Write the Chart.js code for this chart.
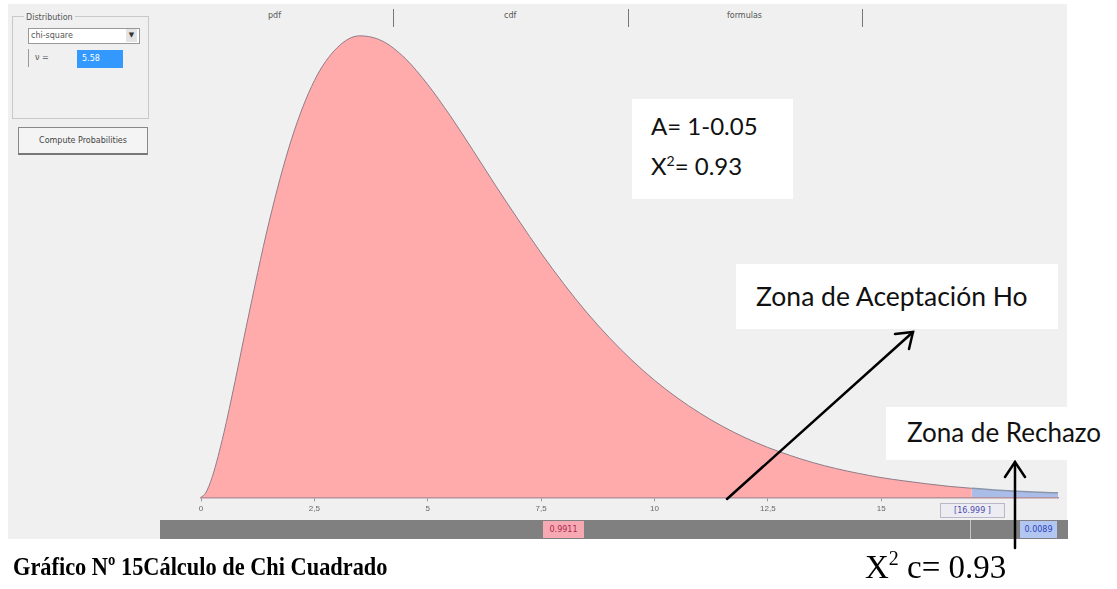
<!DOCTYPE html>
<html>
<head>
<meta charset="utf-8">
<script src="https://cdn.jsdelivr.net/npm/chart.js@4.4.1/dist/chart.umd.min.js"></script>
<style>
  body { margin: 0; background: #fff; width: 1117px; height: 589px; overflow: hidden; position: relative; font-family: "DejaVu Sans", sans-serif; }
  .abs { position: absolute; }
  #panel { left: 8px; top: 4px; width: 1059px; height: 535px; background: #f0f0f0; }
  .small { font-size: 8px; color: #555; }
  .sep { width: 1px; height: 18px; top: 9px; background: #777; }
  .note { background: #fff; font-family: Lato, "Open Sans", sans-serif; color: #111; }
  .cap { font-family: "Liberation Serif", serif; color: #000; transform-origin: 0 0; white-space: nowrap; }
  #chartBox { left: 0; top: 0; width: 1117px; height: 589px; }
</style>
</head>
<body>
<div id="panel" class="abs"></div>

<!-- left controls -->
<div class="abs" style="left:12px;top:16px;width:135px;height:101px;border:1px solid #c8c8c8;"></div>
<div class="abs small" style="left:24px;top:13px;background:#f0f0f0;padding:0 2px;">Distribution</div>
<div class="abs small" style="left:28px;top:28px;width:108px;height:14px;border:1px solid #999;background:#fff;line-height:14px;padding-left:2px;">chi-square</div>
<div class="abs" style="left:126px;top:29px;width:11px;height:13px;background:#e4e4e4;font-size:7px;line-height:13px;text-align:center;color:#333;">&#9660;</div>
<div class="abs small" style="left:28px;top:49px;width:95px;height:18px;border-left:1px solid #999;line-height:18px;padding-left:6px;">&nu; =</div>
<div class="abs" style="left:77px;top:50px;width:46px;height:18px;background:#3399ff;color:#fff;font-size:8px;line-height:18px;padding-left:5px;box-sizing:border-box;">5.58</div>
<div class="abs small" style="left:18px;top:127px;width:128px;height:25px;border:1px solid #888;border-bottom:2px solid #777;background:#f4f4f4;line-height:25px;text-align:center;color:#444;">Compute Probabilities</div>

<!-- tabs -->
<div class="abs small" style="left:268px;top:11px;">pdf</div>
<div class="abs sep" style="left:393px;"></div>
<div class="abs small" style="left:504px;top:11px;">cdf</div>
<div class="abs sep" style="left:628px;"></div>
<div class="abs small" style="left:727px;top:11px;">formulas</div>
<div class="abs sep" style="left:862px;"></div>

<!-- probability bar -->
<div class="abs" style="left:160px;top:520px;width:908px;height:19px;background:#808080;"></div>
<div class="abs" style="left:970px;top:520px;width:1px;height:19px;background:#c4c4c4;"></div>
<div class="abs" style="left:543px;top:521px;width:41px;height:17px;background:#f6a9b2;color:#b02850;font-size:8px;line-height:17px;text-align:center;">0.9911</div>
<div class="abs" style="left:1020px;top:521px;width:37px;height:17px;background:#b3c6f2;color:#2a45b8;font-size:8px;line-height:17px;text-align:center;">0.0089</div>
<div class="abs" style="left:940px;top:503px;width:63px;height:13px;border:1px solid #b8b8c8;background:#ececf2;color:#4a4ab0;font-size:8px;line-height:13px;text-align:center;">[16.999 ]</div>

<div id="chartBox" class="abs"><canvas id="chart"></canvas></div>

<!-- annotations -->
<div class="abs note" style="left:632px;top:99px;width:161px;height:100px;font-size:24px;">
  <div style="position:absolute;left:19px;top:12px;">A= 1-0.05</div>
  <div style="position:absolute;left:19px;top:52px;">X<sup style="font-size:14px;">2</sup>= 0.93</div>
</div>
<div class="abs note" style="left:736px;top:264px;width:322px;height:65px;font-size:26.5px;">
  <div style="position:absolute;left:20px;top:16px;">Zona de Aceptación Ho</div>
</div>
<div class="abs note" style="left:886px;top:407px;width:231px;height:53px;font-size:26px;">
  <div style="position:absolute;left:21px;top:9px;">Zona de Rechazo</div>
</div>

<svg class="abs" style="left:0;top:0;" width="1117" height="589">
  <g stroke="#000" stroke-width="2.5" fill="none" stroke-linecap="round">
    <line x1="727" y1="499" x2="913" y2="332"/>
    <polyline points="909,349 913,332 895,334"/>
    <line x1="1015" y1="548" x2="1015" y2="462"/>
    <polyline points="1005,477 1015,462 1025,477"/>
  </g>
</svg>

<div class="abs cap" style="left:13px;top:552px;font-size:26px;font-weight:bold;transform:scaleX(0.86);">Gráfico Nº 15Cálculo de Chi Cuadrado</div>
<div class="abs cap" style="left:865px;top:547px;font-size:33px;">X<sup style="font-size:20px;vertical-align:13px;">2</sup> c= 0.93</div>

<script>
// chi-square density (acceptance region 0..17, rejection 17..18.9)
const xAccept = [0, 0.1, 0.25, 0.5, 0.75, 1, 1.5, 2, 2.5, 3, 3.5, 4, 4.5, 5, 5.5, 6, 6.5, 7, 7.5, 8, 8.5, 9, 9.5, 10, 10.5, 11, 11.5, 12, 12.5, 13, 13.5, 14, 14.5, 15, 15.5, 16, 16.5, 17];
const yAccept = [0, 0.0013, 0.0064, 0.0196, 0.0357, 0.0527, 0.0848, 0.1105, 0.1284, 0.1385, 0.1422, 0.1406, 0.1353, 0.1272, 0.1175, 0.1069, 0.0960, 0.0855, 0.0753, 0.0658, 0.0571, 0.0493, 0.0423, 0.0361, 0.0307, 0.0260, 0.0219, 0.0184, 0.0154, 0.0129, 0.0107, 0.0089, 0.0074, 0.0061, 0.0051, 0.0042, 0.0034, 0.0028];
const xReject = [17, 17.5, 18, 18.5, 18.9];
const yReject = [0.0028, 0.0023, 0.0019, 0.0016, 0.0014];
const tickValues = [0, 2.5, 5, 7.5, 10, 12.5, 15];

const toPoints = (xs, ys) => xs.map((x, i) => ({ x: x, y: ys[i] }));

const ctx = document.getElementById('chart').getContext('2d');
new Chart(ctx, {
  type: 'line',
  data: {
    datasets: [
      {
        label: 'aceptación',
        data: toPoints(xAccept, yAccept),
        backgroundColor: '#ffabab',
        borderColor: '#8f7c88',
        borderWidth: 1,
        fill: 'origin',
        pointRadius: 0,
        cubicInterpolationMode: 'monotone'
      },
      {
        label: 'rechazo',
        data: toPoints(xReject, yReject),
        backgroundColor: '#a9bde8',
        borderColor: '#8a97aa',
        borderWidth: 1.5,
        fill: 'origin',
        pointRadius: 0,
        cubicInterpolationMode: 'monotone'
      }
    ]
  },
  options: {
    responsive: true,
    maintainAspectRatio: false,
    animation: false,
    layout: { padding: { left: 201, right: 59, top: 30, bottom: 72 } },
    plugins: { legend: { display: false }, tooltip: { enabled: false } },
    scales: {
      x: {
        type: 'linear',
        min: 0,
        max: 18.9,
        afterBuildTicks: axis => { axis.ticks = tickValues.map(v => ({ value: v })); },
        ticks: {
          color: '#666',
          font: { size: 8 },
          padding: 3,
          maxRotation: 0,
          callback: v => String(v).replace('.', ',')
        },
        grid: { drawOnChartArea: false, tickLength: 4, color: '#999' },
        border: { color: '#b58e96', width: 1.5 }
      },
      y: {
        display: false,
        min: 0,
        max: 0.144
      }
    }
  }
});
</script>
</body>
</html>
